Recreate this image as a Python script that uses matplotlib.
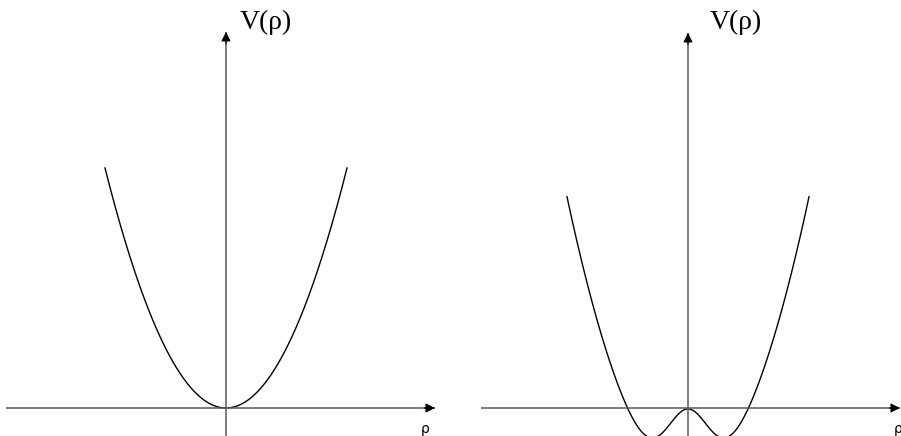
import matplotlib.pyplot as plt
import numpy as np

# potential shapes (rho in units where the curves end at |rho| = 1)
rho_end = 1.0
left_coef = 1.0            # V = a*rho^2
right_a = 1.18             # V = a*rho^2 - h*(1 - exp(-rho^2/(2 s^2))) + d
right_h = 0.296
right_s = 0.176
right_d = -0.004

ylabel_text = 'V(\u03c1)'
xlabel_text = '\u03c1'

fig = plt.figure(figsize=(9.01, 4.36), dpi=100)
axl = fig.add_axes([0, 0, 450 / 901, 1])
axr = fig.add_axes([450 / 901, 0, 451 / 901, 1])

axis_col = '#5a5a5a'


def draw_axes(ax, xmin, xmax, ytop, vlabel_x, rlabel_x):
    ax.plot([xmin, xmax], [0, 0], color=axis_col, lw=1.1, solid_capstyle='butt')
    ax.plot([0, 0], [-0.2, ytop], color=axis_col, lw=1.1, solid_capstyle='butt')
    ax.annotate('', xy=(xmax, 0), xytext=(xmax - 0.09, 0),
                arrowprops=dict(arrowstyle='-|>', color='black', lw=0.8,
                                mutation_scale=14, shrinkA=0, shrinkB=0))
    ax.annotate('', xy=(0, ytop), xytext=(0, ytop - 0.05),
                arrowprops=dict(arrowstyle='-|>', color='black', lw=0.8,
                                mutation_scale=14, shrinkA=0, shrinkB=0))
    ax.text(vlabel_x, 1.608, ylabel_text, family='Liberation Serif', fontsize=20,
            ha='left', va='center')
    ax.text(rlabel_x, -0.088, xlabel_text, fontsize=10, ha='center', va='center')


# left panel: simple parabola
rho = np.linspace(-rho_end, rho_end, 400)
axl.plot(rho, left_coef * rho ** 2, color='black', lw=1.0)
axl.set_xlim(-226 / 121, 224 / 121)
axl.set_ylim(-28 / 240, 408 / 240)
draw_axes(axl, -220 / 121, 209 / 121, 1.567, 0.116, 1.65)
axl.axis('off')

# right panel: double well
v_right = right_a * rho ** 2 - right_h * (1 - np.exp(-rho ** 2 / (2 * right_s ** 2))) + right_d
axr.plot(rho, v_right, color='black', lw=1.0)
axr.set_xlim(-238 / 121, 213 / 121)
axr.set_ylim(-28 / 240, 408 / 240)
draw_axes(axr, -207 / 121, 212 / 121, 1.563, 0.182, 1.735)
axr.axis('off')

fig.savefig('out.png', dpi=100)
